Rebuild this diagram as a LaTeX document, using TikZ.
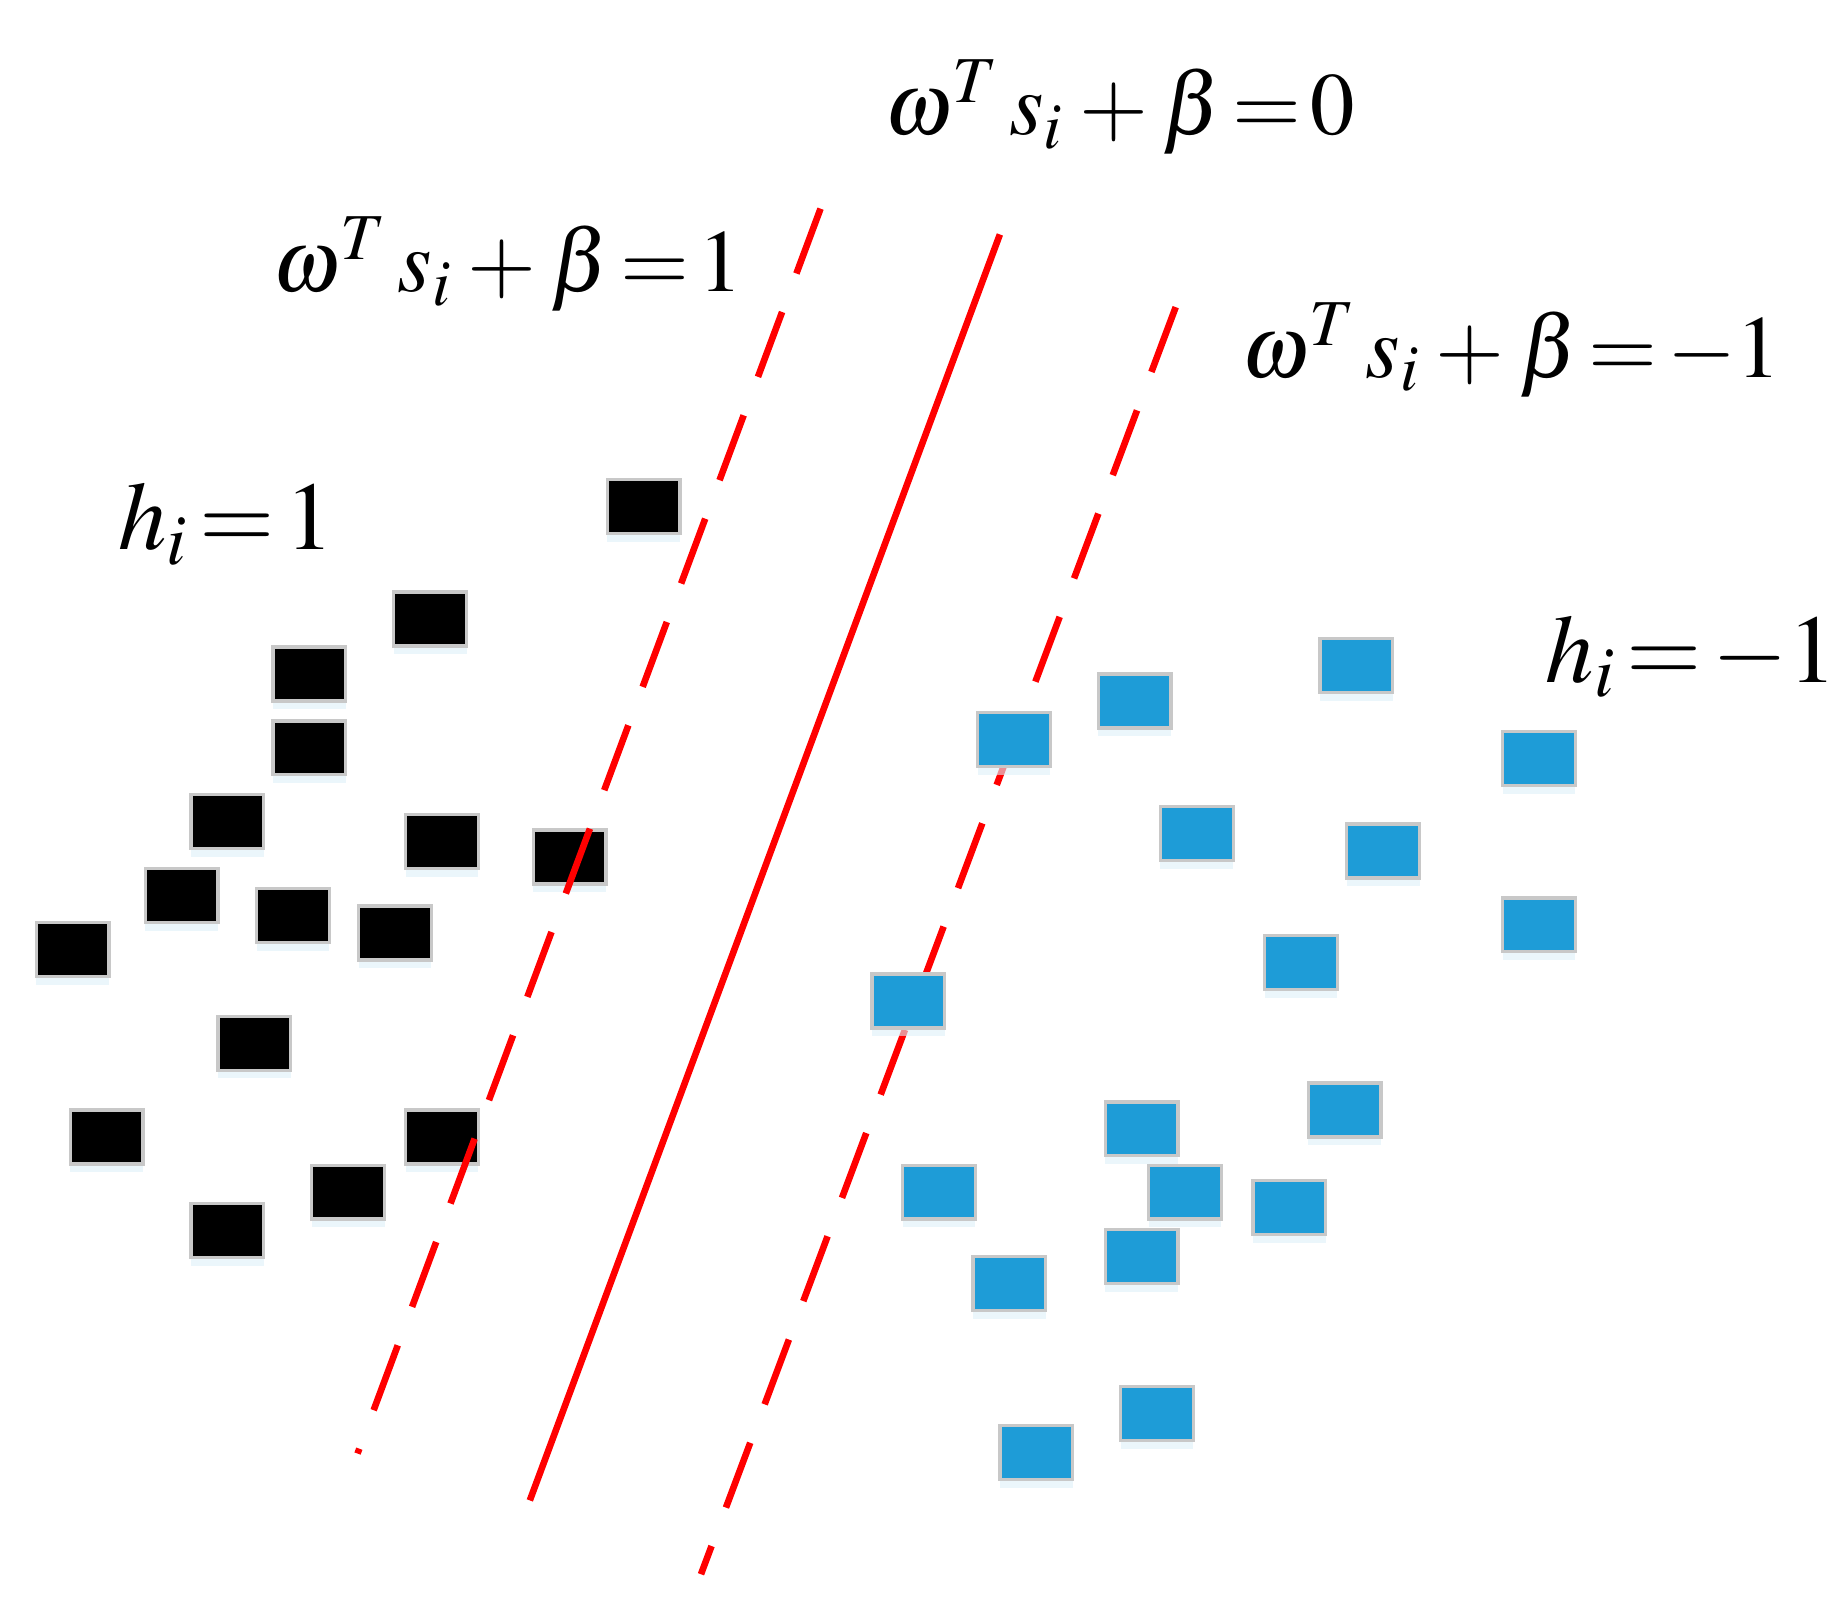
\documentclass[tikz,border=0pt]{standalone}
\usepackage{mathptmx}
\usetikzlibrary{shadows}

\definecolor{ptblue}{RGB}{30,156,215}
\definecolor{ptgray}{RGB}{200,200,200}

\newcommand{\tightmath}{\thickmuskip=2mu\relax\medmuskip=3mu\relax}

\tikzset{
  posbox/.style={draw=ptgray, line width=0.8pt, fill=black, minimum width=0.62cm,
    minimum height=0.46cm, inner sep=0pt,
    drop shadow={shadow xshift=0pt, shadow yshift=-2pt, fill=ptblue!15, opacity=0.6}},
  negbox/.style={posbox, fill=ptblue},
  plane/.style={red, line width=1.6pt},
  margin/.style={plane, dash pattern=on 0.59cm off 0.35cm},
  eqlabel/.style={anchor=base west, inner sep=0pt, font=\fontsize{21.5}{26}\selectfont},
  hlabel/.style={eqlabel, font=\fontsize{23.5}{28}\selectfont},
}

\begin{document}
\begin{tikzpicture}[x=0.01cm, y=-0.01cm]
    \useasboundingbox (0,0) rectangle (1568,1378);

    % Class h_i = 1 (drawn below the lines)
    \foreach \x/\y [count=\n] in {549/432, 367/528, 264/575, 264/638, 194/701,
        377/718, 486/731, 155/764, 250/781, 337/796, 62/810, 217/890,
        91/970, 377/970, 297/1017, 194/1050}
      \node[posbox] (p\n) at (\x,\y) {};

    % Separating plane and the two margins
    \coordinate (upper top) at (700,178);
    \coordinate (upper bot) at (305,1240);
    \coordinate (plane top) at (853,200);
    \coordinate (plane bot) at (452,1280);
    \coordinate (lower top) at (1003,262);
    \coordinate (lower bot) at (598,1343);
    \draw[margin] (upper top) -- (upper bot);
    \draw[plane] (plane top) -- (plane bot);
    \draw[margin] (lower top) -- (lower bot);

    % Class h_i = -1 (drawn over the lines)
    \foreach \x/\y [count=\n] in {1157/568, 968/598, 865/631, 1313/647, 1021/711,
        1180/726, 1313/789, 1110/821, 775/854, 1147/947, 974/963, 801/1017,
        1011/1017, 1100/1030, 974/1072, 861/1095, 987/1206, 884/1239}
      \node[negbox] (n\n) at (\x,\y) {};

    % Labels
    \node[eqlabel] (planelabel) at (754,115) {\tightmath$\omega^{T}\, s_{i} + \beta = 0$};
    \node[eqlabel] (upperlabel) at (232,249) {\tightmath$\omega^{T}\, s_{i} + \beta = 1$};
    \node[eqlabel] (lowerlabel) at (1058,322) {\tightmath$\omega^{T}\, s_{i} + \beta = -1$};
    \node[hlabel] (poslabel) at (100,469) {\tightmath$h_{i} = 1$};
    \node[hlabel] (neglabel) at (1318,582) {\tightmath$h_{i} = -1$};
\end{tikzpicture}
\end{document}
